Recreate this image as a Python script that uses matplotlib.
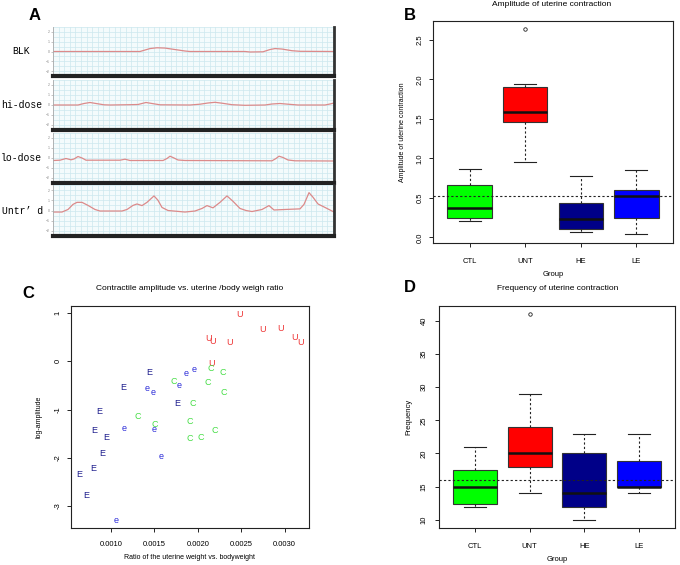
import numpy as np
import matplotlib.pyplot as plt

plt.rcParams['font.family'] = ['Liberation Sans', 'DejaVu Sans']

# ---- panel A: contraction traces (time in samples, signal value) ----
trace_names = ['BLK', 'hi-dose', 'lo-dose', 'Untr\u2019 d']
blk_t = [0, 87, 97, 104, 112, 122, 132, 137, 192, 197, 210, 217, 222, 229, 239, 247, 281]
blk_v = [0, 0, 0.3, 0.38, 0.35, 0.2, 0.05, 0, 0, -0.05, -0.03, 0.2, 0.3, 0.25, 0.08, 0.02, 0]
hi_t = [0, 25, 31, 37, 43, 51, 57, 77, 85, 93, 99, 107, 137, 147, 155, 162, 169, 179, 192,
        212, 219, 227, 235, 245, 272, 277, 281]
hi_v = [0, 0, 0.15, 0.25, 0.15, 0.02, 0, 0.03, 0.05, 0.25, 0.15, 0.02, 0, 0.08, 0.2, 0.27,
        0.18, 0.03, -0.03, 0, 0.1, 0.15, 0.08, 0, 0, 0.1, 0.2]
lo_t = [0, 7, 13, 18, 21, 25, 29, 33, 67, 72, 77, 110, 114, 117, 121, 125, 132, 219, 223,
        226, 230, 235, 242, 281]
lo_v = [-0.25, -0.22, -0.05, -0.18, -0.1, 0.15, 0.0, -0.22, -0.22, -0.12, -0.25, -0.25,
        -0.05, 0.18, 0.0, -0.2, -0.25, -0.28, -0.05, 0.18, 0.05, -0.2, -0.28, -0.3]
un_t = [0, 9, 15, 20, 24, 29, 35, 42, 47, 69, 74, 80, 84, 89, 94, 101, 105, 109, 115, 132,
        142, 149, 154, 160, 167, 174, 180, 187, 193, 199, 209, 216, 221, 232, 247, 251, 256,
        260, 265, 272, 281]
un_v = [-0.15, -0.15, 0.1, 0.6, 0.8, 0.8, 0.5, 0.1, -0.05, -0.05, 0.1, 0.5, 0.64, 0.48, 0.8,
        1.43, 1.0, 0.3, 0.0, -0.15, -0.05, 0.2, 0.48, 0.26, 0.8, 1.43, 0.9, 0.2, 0.0, -0.1,
        0.1, 0.48, 0.05, 0.1, 0.16, 0.6, 1.75, 1.3, 0.64, 0.3, -0.15]
traces = [(blk_t, blk_v), (hi_t, hi_v), (lo_t, lo_v), (un_t, un_v)]

# ---- panels B and D: box plot summaries ----
groups = ['CTL', 'UNT', 'HE', 'LE']
box_colors = ['#00FF00', '#FF0000', '#000088', '#0000FF']

amp_whislo = [0.21, 0.96, 0.07, 0.04]
amp_q1 = [0.25, 1.46, 0.11, 0.25]
amp_med = [0.37, 1.59, 0.23, 0.53]
amp_q3 = [0.67, 1.90, 0.43, 0.60]
amp_whishi = [0.87, 1.94, 0.78, 0.85]
amp_fliers = [[], [2.64], [], []]
amp_ref = 0.53

freq_whislo = [11.9, 14, 10, 14]
freq_q1 = [12.4, 18, 11.9, 15]
freq_med = [15, 20, 14, 15]
freq_q3 = [17.5, 24, 20, 18.9]
freq_whishi = [21, 29, 23, 23]
freq_fliers = [[], [41], [], []]
freq_ref = 16

# ---- panel C: ratio vs log amplitude ----
U_x = [0.002486, 0.002744, 0.002958, 0.003115, 0.003187, 0.002126, 0.002164, 0.002371, 0.002157]
U_y = [0.97, 0.66, 0.67, 0.50, 0.38, 0.48, 0.40, 0.38, -0.05]
C_x = [0.001728, 0.002153, 0.002284, 0.002119, 0.002302, 0.001939, 0.001314, 0.001506,
       0.001908, 0.002195, 0.002034, 0.001908]
C_y = [-0.41, -0.14, -0.24, -0.44, -0.64, -0.88, -1.14, -1.31, -1.24, -1.44, -1.57, -1.60]
E_x = [0.00144, 0.001141, 0.001759, 0.000866, 0.000808, 0.00095, 0.0009, 0.000797,
       0.000632, 0.000716]
E_y = [-0.24, -0.55, -0.88, -1.05, -1.44, -1.58, -1.91, -2.23, -2.35, -2.78]
e_x = [0.001862, 0.001954, 0.001782, 0.001414, 0.001487, 0.001157, 0.001498, 0.001575, 0.001057]
e_y = [-0.26, -0.17, -0.51, -0.57, -0.64, -1.40, -1.42, -1.97, -3.29]

W, H = 680, 565
fig = plt.figure(figsize=(6.8, 5.65), dpi=100)


def box_at(x0, y0, x1, y1):
    return fig.add_axes([x0 / W, 1 - y1 / H, (x1 - x0) / W, (y1 - y0) / H])


# panel A
strip_rows = [(27, 76), (80, 130), (133, 183), (185, 236)]
label_x = [21, 21.5, 21.5, 22.5]
for (t, v), name, (ya, yb), lx in zip(traces, trace_names, strip_rows, label_x):
    ax = box_at(53, ya, 334, yb)
    ax.set_facecolor('#f4fbfc')
    ax.plot(t, v, color='#dc8a8a', lw=0.9)
    ax.set_xlim(0, 281)
    ax.set_ylim(-2.35, 2.4)
    ax.set_xticks(np.arange(0, 282, 5.6), minor=True)
    ax.set_xticks([])
    ax.set_yticks([-2, -1, 0, 1, 2])
    ax.set_yticks(np.arange(-2.5, 2.6, 0.5), minor=True)
    ax.grid(True, which='both', color='#cde8ee', lw=0.5)
    ax.tick_params(axis='x', which='both', length=0)
    ax.tick_params(axis='y', which='minor', length=0)
    ax.tick_params(axis='y', which='major', length=1.5, width=0.4, color='#999999',
                   labelsize=2.5, labelcolor='#888888', pad=0.5)
    ax.spines['top'].set_visible(False)
    ax.spines['bottom'].set_linewidth(3)
    ax.spines['bottom'].set_color('#222222')
    ax.spines['right'].set_linewidth(2)
    ax.spines['right'].set_color('#333333')
    ax.spines['left'].set_linewidth(0.6)
    ax.spines['left'].set_color('#aaaaaa')
    fig.text(lx / W, 1 - ((ya + yb) / 2) / H, name, ha='center', va='center',
             family=['Liberation Mono', 'DejaVu Sans Mono'], fontsize=7)


def style_r(ax):
    for s in ax.spines.values():
        s.set_linewidth(0.8)
        s.set_color('#222222')
    ax.tick_params(direction='out', length=3, width=0.6, labelsize=5.5)
    ax.tick_params(axis='y', labelrotation=90)
    for lab in ax.get_yticklabels():
        lab.set_va('center')


def draw_boxes(ax, whislo, q1, med, q3, whishi, fliers, ref):
    stats = []
    for i in range(len(groups)):
        stats.append(dict(med=med[i], q1=q1[i], q3=q3[i], whislo=whislo[i],
                          whishi=whishi[i], fliers=fliers[i]))
    bp = ax.bxp(stats, positions=range(1, len(groups) + 1), widths=0.8, capwidths=0.4,
                patch_artist=True,
                boxprops=dict(edgecolor='#333333', linewidth=0.8),
                medianprops=dict(color='#111111', linewidth=1.8),
                whiskerprops=dict(color='#222222', linewidth=0.8, linestyle=(0, (2, 2))),
                capprops=dict(color='#222222', linewidth=0.8),
                flierprops=dict(marker='o', markersize=2.5, markerfacecolor='none',
                                markeredgecolor='#222222', markeredgewidth=0.6))
    for patch, c in zip(bp['boxes'], box_colors):
        patch.set_facecolor(c)
    ax.axhline(ref, color='#222222', lw=0.8, linestyle=(0, (2, 2)))
    ax.set_xlim(0.34, 4.66)
    ax.set_xticks(range(1, len(groups) + 1))
    ax.set_xticklabels(groups)


# panel B
axB = box_at(433, 21, 673, 243)
draw_boxes(axB, amp_whislo, amp_q1, amp_med, amp_q3, amp_whishi, amp_fliers, amp_ref)
axB.set_ylim(-0.07, 2.74)
axB.set_yticks([0.0, 0.5, 1.0, 1.5, 2.0, 2.5])
axB.set_yticklabels(['0.0', '0.5', '1.0', '1.5', '2.0', '2.5'])
style_r(axB)
axB.tick_params(axis='x', pad=8)
axB.tick_params(axis='y', pad=4)
axB.set_ylabel('Amplitude of uterine contraction', fontsize=5)
axB.set_xlabel('Group', fontsize=5.5)
axB.yaxis.set_label_coords(-0.125, 0.5)
axB.xaxis.set_label_coords(0.5, -0.144)
axB.xaxis.label.set_va('center')
axB.yaxis.label.set_va('center')
fig.text(552 / W, 1 - 5 / H, 'Amplitude of uterine contraction', ha='center', va='center',
         fontsize=6)

# panel D
axD = box_at(439, 306, 675, 528)
draw_boxes(axD, freq_whislo, freq_q1, freq_med, freq_q3, freq_whishi, freq_fliers, freq_ref)
axD.set_ylim(8.76, 42.24)
axD.set_yticks([10, 15, 20, 25, 30, 35, 40])
style_r(axD)
axD.tick_params(axis='x', pad=8)
axD.tick_params(axis='y', pad=5)
axD.set_ylabel('Frequency', fontsize=5.5)
axD.set_xlabel('Group', fontsize=5.5)
axD.yaxis.set_label_coords(-0.127, 0.5)
axD.xaxis.set_label_coords(0.5, -0.144)
axD.xaxis.label.set_va('center')
axD.yaxis.label.set_va('center')
fig.text(558 / W, 1 - 288 / H, 'Frequency of uterine contraction', ha='center', va='center',
         fontsize=6)

# panel C
axC = box_at(71, 306, 309, 528)
for xs, ys, ch, col in [(U_x, U_y, 'U', '#ee3333'), (C_x, C_y, 'C', '#44dd44'),
                        (E_x, E_y, 'E', '#1c1c8c'), (e_x, e_y, 'e', '#2a2ad8')]:
    for xv, yv in zip(xs, ys):
        axC.text(xv, yv, ch, color=col, fontsize=6.5, ha='center', va='center')
axC.set_xlim(0.00054, 0.00328)
axC.set_ylim(-3.455, 1.145)
axC.set_xticks([0.0010, 0.0015, 0.0020, 0.0025, 0.0030])
axC.set_xticklabels(['0.0010', '0.0015', '0.0020', '0.0025', '0.0030'])
axC.set_yticks([-3, -2, -1, 0, 1])
axC.set_yticklabels(['-3', '-2', '-1', '0', '1'])
style_r(axC)
axC.tick_params(axis='x', pad=6)
axC.tick_params(axis='y', pad=4)
axC.set_ylabel('log-amplitude', fontsize=5)
axC.set_xlabel('Ratio of the uterine weight vs. bodyweight', fontsize=5)
axC.yaxis.set_label_coords(-0.134, 0.5)
axC.xaxis.set_label_coords(0.5, -0.135)
axC.xaxis.label.set_va('center')
axC.yaxis.label.set_va('center')
fig.text(190 / W, 1 - 288 / H, 'Contractile amplitude vs. uterine /body weigh ratio',
         ha='center', va='center', fontsize=6)

# panel letters
for lt, (lx, ly) in zip('ABCD', [(35, 15), (410, 15), (28, 294), (410, 288)]):
    fig.text(lx / W, 1 - ly / H, lt, ha='center', va='center', fontsize=12,
             fontweight='bold')

fig.savefig('out.png', dpi=100)
